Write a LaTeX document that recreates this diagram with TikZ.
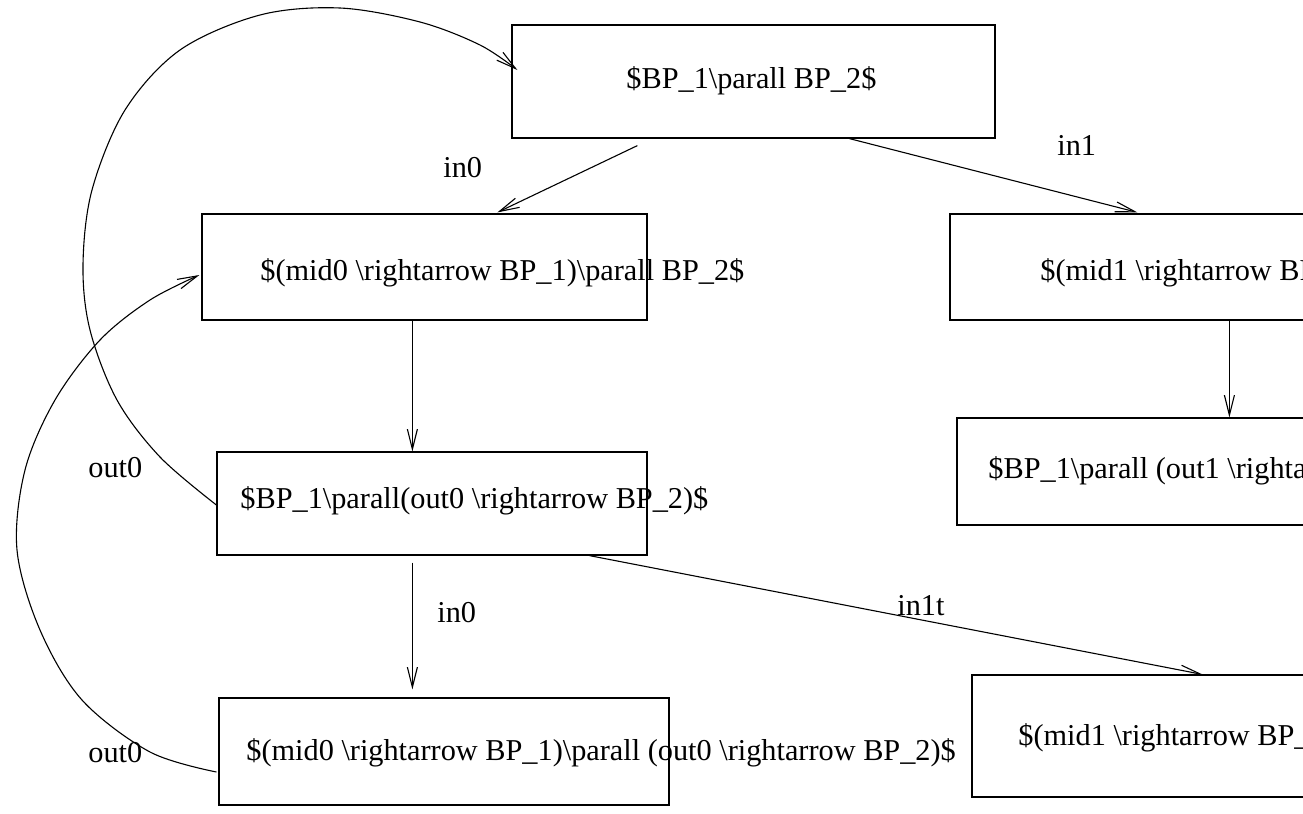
\documentclass[tikz,border=0pt]{standalone}
\usepackage{fontspec}
\setmainfont{Liberation Serif}
\usetikzlibrary{arrows.meta,calc}
\newcommand\bsl{\textbackslash}
\begin{document}
\begin{tikzpicture}[x=0.5pt,y=-0.5pt,
  box/.style={draw, line width=0.6pt, inner sep=0, rectangle},
  txt/.style={inner sep=0, anchor=base west, font=\fontsize{15.15}{18}\selectfont},
  arr/.style={line width=0.55pt, -{Straight Barb[length=10pt,width=5pt]}}]
\useasboundingbox (0,0) rectangle (1303,814);
\clip (0,0) rectangle (1303,814);

% state boxes
\node[box, minimum width=241.5pt, minimum height=56.5pt] (A) at (753.5,81.5) {};
\node[box, minimum width=222.5pt, minimum height=53pt]   (B) at (424.5,267) {};
\node[box, minimum width=225pt,   minimum height=53pt]   (C) at (1175,267) {};
\node[box, minimum width=215pt,   minimum height=51.5pt] (D) at (432,503.5) {};
\node[box, minimum width=221.5pt, minimum height=53.5pt] (E) at (1178.5,471.5) {};
\node[box, minimum width=225pt,   minimum height=53.5pt] (F) at (444,751.5) {};
\node[box, minimum width=214pt,   minimum height=61pt]   (G) at (1186,736) {};

% box texts
\node[txt] (tA) at (626,88)  {\$BP\_1\bsl parall BP\_2\$};
\node[txt] (tB) at (260,280) {\$(mid0 \bsl rightarrow BP\_1)\bsl parall BP\_2\$};
\node[txt] (tC) at (1040,280) {\$(mid1 \bsl rightarrow BP\_1)\bsl parall BP\_2\$};
\node[txt] (tD) at (240,508) {\$BP\_1\bsl parall(out0 \bsl rightarrow BP\_2)\$};
\node[txt] (tE) at (988,478) {\$BP\_1\bsl parall (out1 \bsl rightarrow BP\_2)\$};
\node[txt] (tF) at (246,760) {\$(mid0 \bsl rightarrow BP\_1)\bsl parall (out0 \bsl rightarrow BP\_2)\$};
\node[txt] (tG) at (1018,745) {\$(mid1 \bsl rightarrow BP\_1)\bsl parall (out1 \bsl rightarrow BP\_2)\$};

% transition labels
\node[txt] (l1) at (443,177)  {in0};
\node[txt] (l2) at (1057,155) {in1};
\node[txt] (l3) at (88,477)   {out0};
\node[txt] (l4) at (437,622)  {in0};
\node[txt] (l5) at (897,615)  {in1t};
\node[txt] (l6) at (88,762)   {out0};

% straight transitions
\draw[arr] ($(A.south west)+(126,7)$) -- ($(B.north west)+(296,-1)$);
\draw[arr] ($(A.south west)+(338,0)$) -- ($(C.north west)+(188,-1)$);
\draw[arr] ($(B.south west)+(211,0)$) -- ($(D.north west)+(196,0)$);
\draw[arr] ($(C.south west)+(280,0)$) -- ($(E.north west)+(273,0)$);
\draw[arr] ($(D.south west)+(196,7)$) -- ($(F.north west)+(194,-8)$);
\draw[arr] ($(D.south west)+(373,0)$) -- ($(G.north west)+(231,0)$);

% looping transitions back up
\coordinate (c1s) at ($(D.west)+(0,1.5)$);
\coordinate (c1e) at ($(A.west)+(6,-11.5)$);
\draw[arr] plot[smooth, tension=0.55] coordinates {(c1s) (160,457) (117,400) (90,330) (83,265) (92,190) (125,110) (180,50) (260,15) (340,8) (420,22) (480,45) (c1e)};

\coordinate (c2s) at ($(F.west)+(-2,20.5)$);
\coordinate (c2e) at ($(B.west)+(-2,8)$);
\draw[arr] plot[smooth, tension=0.55] coordinates {(c2s) (150,752) (82,700) (40,630) (17,550) (25,470) (55,400) (100,340) (150,300) (c2e)};
\end{tikzpicture}
\end{document}
